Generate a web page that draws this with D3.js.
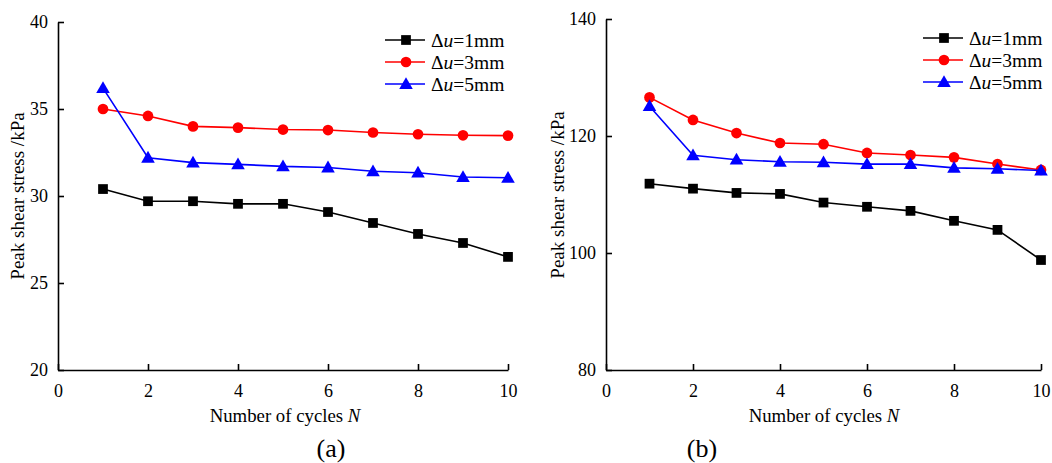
<!DOCTYPE html>
<html>
<head>
<meta charset="utf-8">
<script src="https://cdn.jsdelivr.net/npm/d3@7"></script>
<style>
  body { margin: 0; background: #fff; }
  svg { display: block; font-family: "Liberation Serif", "Times New Roman", serif; }
  .axis path, .axis line { stroke: #000; stroke-width: 1.6; }
  .axis text { fill: #000; }
</style>
</head>
<body>
<svg id="chart" width="1052" height="463"></svg>
<script>
// Number of cycles
const cycles = [1, 2, 3, 4, 5, 6, 7, 8, 9, 10];
const xTicks = [0, 2, 4, 6, 8, 10];

// Panel (a) peak shear stress, kPa
const a_du1 = [30.4, 29.7, 29.7, 29.55, 29.55, 29.08, 28.45, 27.82, 27.3, 26.5];
const a_du3 = [35.0, 34.6, 34.0, 33.93, 33.82, 33.79, 33.65, 33.55, 33.49, 33.47];
const a_du5 = [36.2, 32.2, 31.92, 31.82, 31.7, 31.64, 31.42, 31.34, 31.09, 31.05];
const aYTicks = [20, 25, 30, 35, 40];

// Panel (b) peak shear stress, kPa
const b_du1 = [111.85, 111.0, 110.27, 110.1, 108.62, 107.9, 107.2, 105.5, 103.95, 98.8];
const b_du3 = [126.6, 122.75, 120.5, 118.8, 118.6, 117.1, 116.75, 116.35, 115.2, 114.2];
const b_du5 = [125.1, 116.7, 115.95, 115.6, 115.5, 115.2, 115.2, 114.55, 114.4, 114.1];
const bYTicks = [80, 100, 120, 140];

const seriesNames = ['1mm', '3mm', '5mm'];
const colors = ['#000000', '#ff0000', '#0000ff'];
const symbols = [d3.symbolSquare, d3.symbolCircle, d3.symbolTriangle];
const symbolSizes = [95, 90, 80];

const serif = '"Liberation Serif", "Times New Roman", serif';
const svg = d3.select('#chart');

/**
 * Draw one panel of the figure.
 */
function drawPanel(p) {
    const x = d3.scaleLinear().domain([0, 10]).range([p.left, p.right]);
    const y = d3.scaleLinear().domain(p.yDomain).range([p.bottom, p.top]);
    const g = svg.append('g');

    // axes, ticks pointing inward
    g.append('g')
        .attr('class', 'axis')
        .attr('transform', `translate(0,${p.bottom})`)
        .call(d3.axisBottom(x).tickValues(xTicks).tickSizeInner(-6).tickSizeOuter(0).tickPadding(12))
        .attr('font-family', serif)
        .attr('font-size', 18)
        .selectAll('text').attr('dy', '0.85em');

    g.append('g')
        .attr('class', 'axis')
        .attr('transform', `translate(${p.left},0)`)
        .call(d3.axisLeft(y).tickValues(p.yTicks).tickSizeInner(-6).tickSizeOuter(0).tickPadding(10))
        .attr('font-family', serif)
        .attr('font-size', 18);

    // axis titles
    const xt = g.append('text')
        .attr('x', p.xTitleX)
        .attr('y', 422)
        .attr('text-anchor', 'middle')
        .attr('font-size', 18.8);
    xt.append('tspan').text('Number of cycles ');
    xt.append('tspan').attr('font-style', 'italic').text('N');

    g.append('text')
        .attr('transform', `translate(${p.yTitleX},${p.yTitleY}) rotate(-90)`)
        .attr('text-anchor', 'middle')
        .attr('font-size', 19)
        .text('Peak shear stress /kPa');

    // panel letter
    g.append('text')
        .attr('x', p.labelX)
        .attr('y', 457)
        .attr('text-anchor', 'middle')
        .attr('font-size', 26)
        .text(p.label);

    // series
    const line = d3.line()
        .x((d, i) => x(cycles[i]))
        .y(d => y(d));

    p.series.forEach((vals, s) => {
        g.append('path')
            .datum(vals)
            .attr('fill', 'none')
            .attr('stroke', colors[s])
            .attr('stroke-width', 1.6)
            .attr('d', line);

        g.append('g')
            .selectAll('path')
            .data(vals)
            .join('path')
            .attr('transform', (d, i) => `translate(${x(cycles[i])},${y(d) + (s === 2 ? 1 : 0)})`)
            .attr('d', d3.symbol().type(symbols[s]).size(symbolSizes[s]))
            .attr('fill', colors[s]);
    });

    // legend
    const lg = g.append('g').attr('transform', `translate(${p.legendX},${p.legendY})`);
    seriesNames.forEach((name, s) => {
        const row = lg.append('g').attr('transform', `translate(0,${s * 22})`);
        row.append('line')
            .attr('x1', 0).attr('x2', 40)
            .attr('stroke', colors[s])
            .attr('stroke-width', 1.6);
        row.append('path')
            .attr('transform', `translate(21,${s === 2 ? 1 : 0})`)
            .attr('d', d3.symbol().type(symbols[s]).size(symbolSizes[s]))
            .attr('fill', colors[s]);
        const t = row.append('text')
            .attr('x', 46)
            .attr('y', 6.5)
            .attr('font-size', 19.5);
        t.append('tspan').text('\u0394');
        t.append('tspan').attr('font-style', 'italic').text('u');
        t.append('tspan').text('=' + name);
    });
}

drawPanel({
    left: 58, right: 508, top: 22, bottom: 370,
    yDomain: [20, 40], yTicks: aYTicks,
    series: [a_du1, a_du3, a_du5],
    xTitleX: 285, yTitleX: 24, yTitleY: 196,
    label: '(a)', labelX: 331,
    legendX: 385, legendY: 40
});

drawPanel({
    left: 606, right: 1041, top: 19, bottom: 370,
    yDomain: [80, 140], yTicks: bYTicks,
    series: [b_du1, b_du3, b_du5],
    xTitleX: 824, yTitleX: 564, yTitleY: 195,
    label: '(b)', labelX: 702,
    legendX: 923, legendY: 38
});
</script>
</body>
</html>
